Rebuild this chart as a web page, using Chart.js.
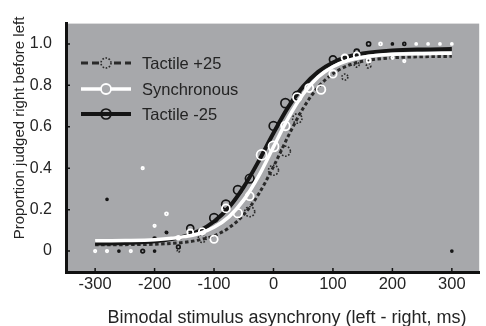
<!DOCTYPE html>
<html>
<head>
<meta charset="utf-8">
<script src="https://cdn.jsdelivr.net/npm/chart.js@4.4.1/dist/chart.umd.min.js"></script>
<style>
  html, body { margin: 0; padding: 0; background: #fff; }
  #wrap { width: 486px; height: 326px; position: relative; }
</style>
</head>
<body>
<div id="wrap"><canvas id="chart"></canvas></div>
<script>
// fitted curves at these asynchronies (ms)
const curveX    = [-300, -250, -200, -150, -125, -100, -75, -50, -25, 0, 25, 50, 75, 100, 125, 150, 200, 250, 300];
const curvePos  = [0.030, 0.031, 0.033, 0.042, 0.054, 0.074, 0.112, 0.176, 0.275, 0.408, 0.556, 0.690, 0.791, 0.856, 0.895, 0.916, 0.933, 0.938, 0.940];
const curveSync = [0.050, 0.051, 0.055, 0.069, 0.085, 0.115, 0.165, 0.247, 0.362, 0.503, 0.643, 0.758, 0.840, 0.890, 0.920, 0.936, 0.950, 0.953, 0.955];
const curveNeg  = [0.036, 0.039, 0.047, 0.071, 0.098, 0.143, 0.211, 0.310, 0.434, 0.570, 0.696, 0.795, 0.865, 0.910, 0.938, 0.954, 0.968, 0.973, 0.975];

// observed proportions; marker radius grows with number of trials
const posX = [-180, -160, -120, -40, 0, 20, 40, 120, 140, 160];
const posY = [0.09, 0.0, 0.061, 0.19, 0.39, 0.482, 0.64, 0.84, 0.90, 0.894];
const posN = [1.2, 1.2, 4, 5, 5, 5, 4.7, 3, 2.5, 2.3];

const syncX = [-300, -280, -240, -220, -200, -180, -160, -140, -120, -100, -80, -60, -40, -20, 0, 20, 40, 60, 80, 100, 120, 140, 160, 180, 200, 220, 240, 260, 280, 300];
const syncY = [0, 0, 0, 0.40, 0.122, 0.18, 0.064, 0.09, 0.095, 0.057, 0.206, 0.183, 0.265, 0.464, 0.505, 0.604, 0.742, 0.787, 0.78, 0.855, 0.933, 0.945, 0.92, 1.0, 0.933, 0.917, 1.0, 1.0, 1.0, 1.0];
const syncN = [1.2, 1.2, 1.2, 1.2, 1.2, 1.5, 1.8, 3, 3.3, 3.7, 4, 4.3, 4, 5, 5, 4.3, 4.3, 4, 4.3, 3.7, 3.3, 3, 2, 1.5, 1.2, 1.2, 1, 1, 1, 1];

const negX = [-280, -260, -220, -200, -200, -180, -160, -140, -100, -80, -60, -40, 0, 20, 40, 100, 140, 160, 200, 220, 300];
const negY = [0.25, 0, 0, 0, 0.06, 0.09, 0.02, 0.11, 0.16, 0.225, 0.295, 0.35, 0.604, 0.714, 0.75, 0.925, 0.963, 1.0, 1.0, 1.0, 0];
const negN = [1, 1, 1.8, 1, 1.5, 1, 1.8, 3.5, 4.3, 4.3, 4.3, 4.3, 4.3, 4.5, 4.3, 3.5, 2.5, 2, 1, 1.5, 1];

const xTicks = [-300, -200, -100, 0, 100, 200, 300];
const yTicks = [0, 0.2, 0.4, 0.6, 0.8, 1.0];
const seriesLabels = ['Tactile +25', 'Synchronous', 'Tactile -25'];
const xTitle = 'Bimodal stimulus asynchrony (left - right, ms)';
const yTitle = 'Proportion judged right before left';

const FONT = '"Liberation Sans", Arial, sans-serif';
const INK = '#242424';
const GRAY = '#a7a8ab';

const styles = {
  pos:  { color: '#2a2a2a', width: 3,   dash: [3.5, 2.5], legendDash: [7, 4], marker: 1.6, markerDash: [1.6, 1.6] },
  sync: { color: '#ffffff', width: 3.5, dash: [],         legendDash: [],     marker: 1.8 },
  neg:  { color: '#151515', width: 4,   dash: [],         legendDash: [],     marker: 1.7 }
};

const toXY = (xs, ys) => xs.map((x, i) => ({ x: x, y: ys[i] }));

function curve(ys, st, order) {
  return {
    type: 'line',
    data: toXY(curveX, ys),
    borderColor: st.color,
    borderWidth: st.width,
    borderDash: st.dash,
    borderCapStyle: 'butt',
    pointRadius: 0,
    cubicInterpolationMode: 'monotone',
    fill: false,
    order: order
  };
}

function markers(xs, ys, ns, st, order) {
  return {
    type: 'scatter',
    data: toXY(xs, ys),
    pointRadius: ns,
    pointBorderColor: st.color,
    pointBackgroundColor: 'transparent',
    pointBorderWidth: st.marker,
    dashedMarkers: !!st.markerDash,
    order: order
  };
}

const plotBg = {
  id: 'plotBg',
  beforeDraw(chart) {
    const { ctx, chartArea: a } = chart;
    ctx.save();
    ctx.fillStyle = GRAY;
    ctx.fillRect(a.left, a.top, a.right - a.left, a.bottom - a.top);
    ctx.restore();
  }
};

const dashedMarkers = {
  id: 'dashedMarkers',
  beforeDatasetDraw(chart, args) {
    if (chart.data.datasets[args.index].dashedMarkers) chart.ctx.setLineDash(styles.pos.markerDash);
  },
  afterDatasetDraw(chart) {
    chart.ctx.setLineDash([]);
  }
};

// ticks point into the plot, as in the original
const innerTicks = {
  id: 'innerTicks',
  afterDatasetsDraw(chart) {
    const { ctx, chartArea: a, scales } = chart;
    ctx.save();
    ctx.strokeStyle = '#111';
    ctx.lineWidth = 1.5;
    ctx.beginPath();
    scales.x.ticks.forEach(t => {
      const px = scales.x.getPixelForValue(t.value);
      ctx.moveTo(px, a.bottom);
      ctx.lineTo(px, a.bottom - 4);
    });
    scales.y.ticks.forEach(t => {
      const py = scales.y.getPixelForValue(t.value);
      ctx.moveTo(a.left, py);
      ctx.lineTo(a.left + 4, py);
    });
    ctx.stroke();
    ctx.restore();
  }
};

const axisTitles = {
  id: 'axisTitles',
  afterDraw(chart) {
    const ctx = chart.ctx;
    ctx.save();
    ctx.fillStyle = INK;
    ctx.textAlign = 'center';
    ctx.textBaseline = 'alphabetic';
    ctx.font = '18px ' + FONT;
    ctx.fillText(xTitle, 287, 323);
    ctx.translate(24, 128);
    ctx.rotate(-Math.PI / 2);
    ctx.font = '15px ' + FONT;
    ctx.fillText(yTitle, 0, 0);
    ctx.restore();
  }
};

const legendBox = {
  id: 'legendBox',
  afterDraw(chart) {
    const ctx = chart.ctx;
    const rows = [styles.pos, styles.sync, styles.neg];
    const rowY = [63, 89, 114];
    ctx.save();
    rows.forEach((st, i) => {
      const y = rowY[i];
      ctx.strokeStyle = st.color;
      ctx.lineWidth = st.width;
      ctx.lineCap = 'butt';
      ctx.setLineDash(st.legendDash);
      ctx.beginPath();
      ctx.moveTo(81, y);
      ctx.lineTo(131, y);
      ctx.stroke();
      ctx.setLineDash(st.markerDash || []);
      ctx.lineWidth = st.marker;
      ctx.beginPath();
      ctx.arc(106, y, 5, 0, Math.PI * 2);
      if (st !== styles.neg) {
        ctx.fillStyle = GRAY;
        ctx.fill();
      }
      ctx.stroke();
      ctx.setLineDash([]);
      ctx.fillStyle = INK;
      ctx.font = '16.5px ' + FONT;
      ctx.textBaseline = 'middle';
      ctx.fillText(seriesLabels[i], 142, y + 1);
    });
    ctx.restore();
  }
};

new Chart(document.getElementById('chart'), {
  type: 'scatter',
  data: {
    datasets: [
      markers(syncX, syncY, syncN, styles.sync, 0),
      curve(curveSync, styles.sync, 1),
      markers(negX, negY, negN, styles.neg, 2),
      curve(curveNeg, styles.neg, 3),
      markers(posX, posY, posN, styles.pos, 4),
      curve(curvePos, styles.pos, 5)
    ]
  },
  options: {
    responsive: true,
    maintainAspectRatio: false,
    animation: false,
    events: [],
    layout: { padding: { top: 11, left: 0, right: 0, bottom: 0 } },
    plugins: { legend: { display: false }, tooltip: { enabled: false } },
    scales: {
      x: {
        type: 'linear',
        min: -349,
        max: 346,
        afterBuildTicks: s => { s.ticks = xTicks.map(v => ({ value: v })); },
        afterFit: s => { s.height = 54; },
        grid: { display: false, drawTicks: false },
        border: { display: true, color: '#111', width: 3 },
        ticks: { color: INK, padding: 3, maxRotation: 0, font: { family: FONT, size: 16.5 } }
      },
      y: {
        type: 'linear',
        min: -0.101,
        max: 1.098,
        afterBuildTicks: s => { s.ticks = yTicks.map(v => ({ value: v })); },
        afterFit: s => { s.width = 66; },
        grid: { display: false, drawTicks: false },
        border: { display: true, color: '#111', width: 3 },
        ticks: {
          color: INK,
          padding: 14,
          font: { family: FONT, size: 16 },
          callback: v => (v === 0 ? '0' : v.toFixed(1))
        }
      }
    }
  },
  plugins: [plotBg, dashedMarkers, innerTicks, axisTitles, legendBox]
});
</script>
</body>
</html>
